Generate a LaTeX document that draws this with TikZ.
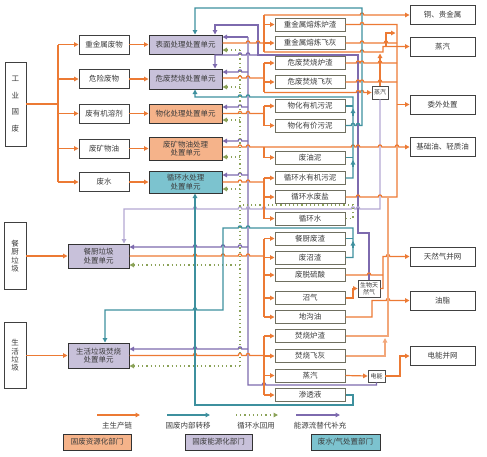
\documentclass[tikz,border=0pt]{standalone}
\usepackage{fontspec}
\newfontfamily\cjk{Noto Sans CJK SC}
\usetikzlibrary{arrows.meta, positioning}
\definecolor{orgC}{HTML}{EC7A34}
\definecolor{orgL}{HTML}{F2A77A}
\definecolor{orgF}{HTML}{F5B38A}
\definecolor{tealC}{HTML}{3E909E}
\definecolor{tealF}{HTML}{7CC3CF}
\definecolor{purC}{HTML}{7D6AAE}
\definecolor{purL}{HTML}{B3A8D3}
\definecolor{purF}{HTML}{C8C1DA}
\definecolor{grnC}{HTML}{8BA258}
\definecolor{txtC}{HTML}{3C3C3C}
\definecolor{gbC}{HTML}{6F6F60}
\tikzset{
	>={Triangle[length=4.5pt,width=4.5pt]}, % filled arrow heads
	every node/.style={font=\cjk\fontsize{7.5}{8.5}\selectfont, text=txtC, inner sep=0pt, align=center},
	wbox/.style={draw=black!75, line width=0.9pt, fill=white},
	ubox/.style={draw=black!80, line width=1pt},
	srcbox/.style={wbox, minimum width=50pt, minimum height=19pt},
	unitbox/.style={ubox, minimum width=73pt, minimum height=19pt},
	prodbox/.style={draw=gbC, line width=1pt, fill=white, minimum width=70pt, minimum height=13pt},
	outbox/.style={wbox, minimum width=65pt, minimum height=19pt},
	tinybox/.style={draw=black!70, line width=0.8pt, fill=white, font=\cjk\fontsize{6}{6.5}\selectfont},
	orl/.style={draw=orgC, line width=1.2pt},
	orlL/.style={draw=orgL, line width=1.2pt},
	tl/.style={draw=tealC, line width=1.3pt},
	pul/.style={draw=purC, line width=1.3pt},
	pulL/.style={draw=purL, line width=1.3pt},
	dt/.style={draw=grnC, line width=1.2pt, dash pattern=on 1.2pt off 3pt},
}
% line jumps over a crossing line (rightward / leftward)
\newcommand\hpr[2]{-- ({#1-1.8},#2) .. controls ({#1-1.8},{#2-2.8}) and ({#1+1.8},{#2-2.8}) .. ({#1+1.8},#2)}
\newcommand\hpl[2]{-- ({#1+1.8},#2) .. controls ({#1+1.8},{#2-2.8}) and ({#1-1.8},{#2-2.8}) .. ({#1-1.8},#2)}

\begin{document}
\begin{tikzpicture}[x=1pt, y=-1pt]
	\useasboundingbox (0,0) rectangle (487,456);

	% sources
	\node[wbox, minimum width=21pt, minimum height=84pt, font=\cjk\fontsize{7.5}{16.5}\selectfont] (gygf) at (15.5,104) {工\\业\\固\\废};
	\node[wbox, minimum width=22pt, minimum height=67pt, font=\cjk\fontsize{7.5}{8.3}\selectfont] (cclj) at (15,256) {餐\\厨\\垃\\圾};
	\node[wbox, minimum width=22pt, minimum height=66pt, font=\cjk\fontsize{7.5}{8.3}\selectfont] (shlj) at (15,355.5) {生\\活\\垃\\圾};

	\node[srcbox] (zjs) at (104,44.5) {重金属废物};
	\node[srcbox] (wxf) at (104,79) {危险废物};
	\node[srcbox] (yjrj) at (104,113.5) {废有机溶剂};
	\node[srcbox] (kwy) at (104,148.5) {废矿物油};
	\node[srcbox] (fs) at (104,182) {废水};

	% treatment units
	\node[unitbox, fill=purF] (bmcl) at (185.5,44.5) {表面处理处置单元};
	\node[unitbox, fill=purF, minimum height=20pt] (wffs) at (185.5,79) {危废焚烧处置单元};
	\node[unitbox, fill=orgF] (whcl) at (185.5,113.5) {物化处理处置单元};
	\node[unitbox, fill=orgF, minimum height=23pt] (kwycl) at (185.5,148.5) {废矿物油处理\\处置单元};
	\node[unitbox, fill=tealF, minimum height=22pt] (xhscl) at (185.5,182) {循环水处理\\处置单元};
	\node[ubox, fill=purF, minimum width=61pt, minimum height=24pt] (cccl) at (98.5,256) {餐厨垃圾\\处置单元};
	\node[ubox, fill=purF, minimum width=61pt, minimum height=25pt] (shfs) at (98.5,355.5) {生活垃圾焚烧\\处置单元};

	% products
	\node[prodbox] (zz) at (310,24.5) {重金属熔炼炉渣};
	\node[prodbox] (zf) at (310,43) {重金属熔炼飞灰};
	\node[prodbox] (wz) at (310,63) {危废焚烧炉渣};
	\node[prodbox] (wf) at (310,82) {危废焚烧飞灰};
	\node[prodbox] (whyj) at (310,106) {物化有机污泥};
	\node[prodbox] (whyv) at (310,125.5) {物化有价污泥};
	\node[prodbox] (fyn) at (310,157.5) {废油泥};
	\node[prodbox] (xyj) at (310,178) {循环水有机污泥};
	\node[prodbox] (xfy) at (310,197) {循环水废盐};
	\node[prodbox] (xhs) at (310,218.5) {循环水};
	\node[prodbox] (ccfz) at (310,238.5) {餐厨废渣};
	\node[prodbox] (fzz) at (310,257.5) {废沼渣};
	\node[prodbox] (tls) at (310,275) {废脱硫酸};
	\node[prodbox] (zq) at (310,298) {沼气};
	\node[prodbox] (dgy) at (310,317) {地沟油};
	\node[prodbox] (fslz) at (310,336) {焚烧炉渣};
	\node[prodbox] (fsfh) at (310,356) {焚烧飞灰};
	\node[prodbox] (zqb) at (310,375.5) {蒸汽};
	\node[prodbox] (stl) at (310,395) {渗透液};

	\node[tinybox, minimum width=16pt, minimum height=13pt] (zqs) at (380,92.5) {蒸汽};
	\node[tinybox, minimum width=22pt, minimum height=17pt] (swtrq) at (369,288.5) {生物天\\然气};
	\node[tinybox, minimum width=17pt, minimum height=12pt] (dn) at (376.5,376) {电能};

	% final outputs
	\node[outbox] (tgjs) at (442.5,14.5) {铜、贵金属};
	\node[outbox] (zqr) at (442.5,46.5) {蒸汽};
	\node[outbox] (wwcz) at (442.5,104.5) {委外处置};
	\node[outbox] (jcy) at (442.5,147) {基础油、轻质油};
	\node[outbox] (trq) at (442.5,256.5) {天然气并网};
	\node[outbox] (yz) at (442.5,300.5) {油脂};
	\node[outbox] (dnbw) at (442.5,356) {电能并网};

	% main chain into the units
	\draw[orl] (gygf.east) -- (58,104);
	\draw[orl] (58,44.5) -- (58,182);
	\foreach \n in {zjs,wxf,yjrj,kwy,fs}
		\draw[orl,->] (\n.west -| 58,0) -- (\n.west);
	\draw[orl,->] (zjs) -- (bmcl);
	\draw[orl,->] (wxf) -- (wffs);
	\draw[orl,->] (yjrj) -- (whcl);
	\draw[orl,->] (kwy) -- (kwycl);
	\draw[orl,->] (fs) -- (xhscl);
	\draw[orl,->] (cclj) -- (cccl);
	\draw[orl,->] (shlj) -- (shfs);

	% energy supply (purple)
	\draw[pul] (dn.south) -- (376.5,385) \hpl{264}{385} -- (248,385) -- (248,37);
	\draw[pul,<-] (bmcl.east |- 0,37) -- (248,37);
	\draw[pul,<-] (wffs.east |- 0,72) \hpr{240}{72} -- (248,72);
	\draw[pul,<-] (whcl.east |- 0,107) \hpr{240}{107} -- (248,107);
	\draw[pul,<-] (kwycl.east |- 0,141) \hpr{240}{141} -- (248,141);
	\draw[pul,<-] (xhscl.east |- 0,175) \hpr{240}{175} -- (248,175);
	\draw[pul,<-] (cccl.east |- 0,247) \hpr{195}{247} \hpr{223}{247} \hpr{240}{247} -- (248,247);
	\draw[pul,<-] (shfs.east |- 0,349) \hpr{195}{349} \hpr{240}{349} -- (248,349);
	\draw[pul,<-] ([xshift=29.5pt]bmcl.north) -- (215,25) -- (258,25) -- (258,55) -- (358,55) -- (358,233) -- (369,233) -- (swtrq.north);
	\draw[pul,<-] ([xshift=29.5pt]wffs.north) -- (215,55) \hpr{240}{55} \hpr{248}{55} -- (258,55);
	\draw[pulL,<-] ([xshift=25.5pt]cccl.north) -- (124,209) \hpr{195}{209} \hpr{240}{209} \hpr{248}{209} \hpr{264}{209} \hpr{353}{209} \hpr{358}{209} -- (380,209) -- (zqs.south);

	% recycled water (dotted)
	\draw[dt] (240,50) -- (240,366);
	\draw[dt] (xhs.east) -- (353,218.5) -- (353,205) -- (240,205);
	\draw[dt,<-] (bmcl.east |- 0,50) -- (240,50);
	\draw[dt,<-] (wffs.east |- 0,87) -- (240,87);
	\draw[dt,<-] (whcl.east |- 0,120) -- (240,120);
	\draw[dt,<-] (kwycl.east |- 0,157) -- (240,157);
	\draw[dt,<-] (xhscl.east |- 0,189) -- (240,189);
	\draw[dt,<-] (cccl.east |- 0,265) -- (240,265);
	\draw[dt,<-] (shfs.east |- 0,366) -- (240,366);

	% unit outputs
	\draw[orl] (bmcl.east |- 0,43) \hpr{248}{43} \hpr{258}{43} -- (264,43);
	\draw[orl] (264,15) -- (264,52);
	\draw[orl,->] (264,15) \hpr{362}{15} -- (tgjs.west |- 0,15);
	\draw[orl,->] (264,24.5) -- (zz.west);
	\draw[orl,->] (264,43) -- (zf.west);
	\draw[orl,->] (264,52) \hpr{362}{52} -- (383,52) -- (383,46.5) -- (zqr.west);
	\draw[orl,->] (386,46.5) -- (386,33) -- (395.5,33);
	\draw[orl,->] (zqs.north) -- (380,53.5);

	\draw[orl] (wffs.east |- 0,78) \hpr{240}{78} \hpr{248}{78} -- (264,78);
	\draw[orl] (264,63) -- (264,92);
	\draw[orl,->] (264,63) -- (wz.west);
	\draw[orl,->] (264,82) -- (wf.west);
	\draw[orl,->] (264,92.5) \hpr{358}{92.5} \hpr{362}{92.5} -- (zqs.west);

	\draw[orl] (whcl.east) \hpr{240}{113.5} \hpr{248}{113.5} -- (264,113.5);
	\draw[orl] (264,106) -- (264,125.5);
	\draw[orl,->] (264,106) -- (whyj.west);
	\draw[orl,->] (264,125.5) -- (whyv.west);

	\draw[orl,->] (kwycl.east |- 0,147) \hpr{240}{147} \hpr{248}{147} \hpr{353}{147} \hpr{358}{147} \hpr{380}{147} \hpr{397}{147} -- (jcy.west);
	\draw[orl,->] (264,147) -- (264,157.5) -- (fyn.west);

	\draw[orl] (xhscl.east) \hpr{240}{182} \hpr{248}{182} -- (264,182);
	\draw[orl] (264,178) -- (264,218.5);
	\draw[orl,->] (264,178) -- (xyj.west);
	\draw[orl,->] (264,197) -- (xfy.west);
	\draw[orl,->] (264,218.5) -- (xhs.west);

	\draw[orl] (cccl.east) \hpr{195}{256} \hpr{223}{256} \hpr{240}{256} \hpr{248}{256} -- (264,256);
	\draw[orl] (264,238.5) -- (264,317);
	\foreach \n in {ccfz,fzz,tls,zq,dgy}
		\draw[orl,->] (\n.west -| 264,0) -- (\n.west);

	\draw[orl] (shfs.east) \hpr{195}{355.5} \hpr{240}{355.5} \hpr{248}{355.5} -- (264,355.5);
	\draw[orl] (264,336) -- (264,395);
	\foreach \n in {fslz,fsfh,zqb,stl}
		\draw[orl,->] (\n.west -| 264,0) -- (\n.west);

	% internal transfer (teal)
	\draw[tl,<-] ([xshift=9.5pt]bmcl.north) -- (195,8) -- (362,8) -- (362,125.5) \hpl{358}{125.5} \hpl{353}{125.5} -- (whyv.east);
	\draw[tl,<-] ([xshift=9.5pt]wffs.south) -- (195,97) \hpr{240}{97} \hpr{248}{97} -- (353,97) -- (353,178) -- (xyj.east);
	\draw[tl] (whyj.east) -- (353,106);
	\draw[tl] (fyn.east) -- (353,157.5);
	\draw[tl,->] (353,116) -- (353,108.5);
	\draw[tl,->] (353,167) -- (353,160);
	\draw[tl,<-] ([xshift=6.5pt]shfs.north) -- (105,310) \hpr{195}{310} -- (223,310) -- (223,228) \hpr{240}{228} \hpr{248}{228} -- (353,228) -- (353,257.5) -- (fzz.east);
	\draw[tl] (ccfz.east) -- (353,238.5);
	\draw[tl,->] (353,248) -- (353,241);
	\draw[tl,<-] ([xshift=9.5pt]xhscl.south) -- (195,405) -- (353,405) -- (353,395) -- (stl.east);

	% product routes to the right
	\draw[orl] (xfy.east) \hpr{358}{197} \hpr{380}{197} -- (397,197) -- (397,24.5) \hpl{362}{24.5} -- (zz.east);
	\draw[orl] (zf.east) \hpr{362}{43} \hpr{386}{43} -- (397,43);
	\draw[orl] (wz.east) \hpr{358}{63} \hpr{362}{63} \hpr{380}{63} -- (397,63);
	\draw[orl] (wf.east) \hpr{358}{82} \hpr{362}{82} \hpr{380}{82} -- (397,82);
	\draw[orl,->] (397,104.5) -- (wwcz.west);

	\draw[orl] (tls.east) \hpr{369}{275} -- (383,275);
	\draw[orl,->] (swtrq.east) -- (383,288.5) -- (383,256.5) \hpr{388}{256.5} -- (trq.west);
	\draw[orl,->] (zq.east) -- (353,298) -- (353,288.5) -- (swtrq.west);
	\draw[orl,->] (dgy.east) -- (372,317) -- (372,300.5) \hpr{388}{300.5} -- (yz.west);
	\draw[orlL] (fslz.east) -- (388,336) -- (388,197);
	\draw[orlL,->] (fsfh.east) -- (385,356) -- (385,338);
	\draw[orl,->] (zqb.east) -- (dn.west);
	\draw[orl,->] (dn.east) -- (400,376) -- (400,356) -- (dnbw.west);

	% legend
	\coordinate (la1) at (97,415);  \coordinate (lb1) at (140,415);
	\coordinate (la2) at (167,415); \coordinate (lb2) at (210,415);
	\coordinate (la3) at (236,415); \coordinate (lb3) at (278,415);
	\coordinate (la4) at (296,415); \coordinate (lb4) at (340,415);
	\draw[orl,->] (la1) -- (lb1);
	\draw[tl,->] (la2) -- (lb2);
	\draw[dt,->] (la3) -- (lb3);
	\draw[pul,->] (la4) -- (lb4);
	\node (lt1) at (117,426) {主生产链};
	\node (lt2) at (188,426) {固废内部转移};
	\node (lt3) at (256,426) {循环水回用};
	\node (lt4) at (320,426) {能源流替代补充};
	\node[ubox, fill=orgF, minimum width=68pt, minimum height=16pt] (lg1) at (97,442) {固废资源化部门};
	\node[ubox, fill=purF, minimum width=67pt, minimum height=16pt] (lg2) at (218.5,442) {固废能源化部门};
	\node[ubox, fill=tealF, minimum width=69pt, minimum height=16pt] (lg3) at (345.5,442) {废水/气处置部门};
\end{tikzpicture}
\end{document}
